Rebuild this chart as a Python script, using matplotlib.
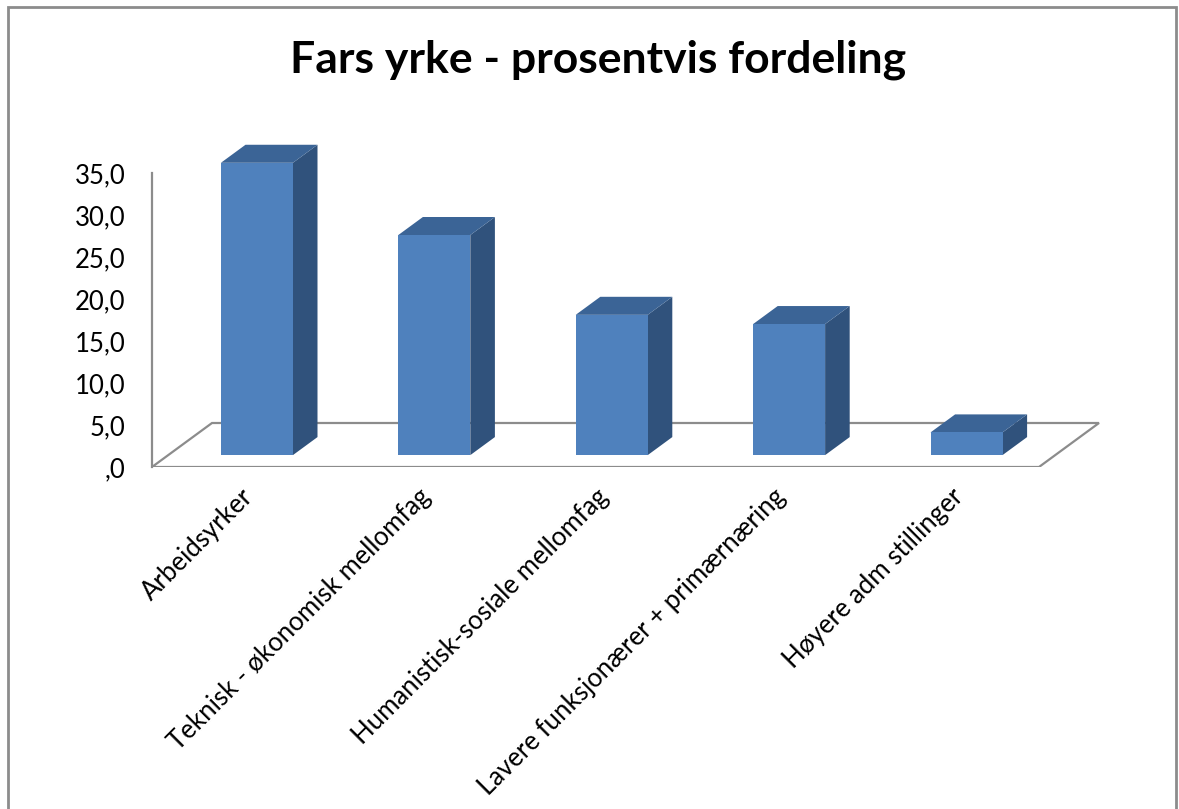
import numpy as np
import matplotlib
matplotlib.use("Agg")
import matplotlib.pyplot as plt
from matplotlib.patches import Polygon, Rectangle

# data
categories = ["Arbeidsyrker",
              "Teknisk - økonomisk mellomfag",
              "Humanistisk-sosiale mellomfag",
              "Lavere funksjonærer + primærnæring",
              "Høyere adm stillinger"]
values = [34.8, 26.2, 16.7, 15.6, 2.7]
yticks = [0, 5, 10, 15, 20, 25, 30, 35]
ytick_labels = [",0", "5,0", "10,0", "15,0", "20,0", "25,0", "30,0", "35,0"]

plt.rcParams['font.family'] = ['Lato', 'DejaVu Sans']

W, H = 1179, 809
fig = plt.figure(figsize=(W / 100, H / 100), dpi=100)

# pixel geometry of the plot area
px_slot = 177.4      # pixels per category
px_val = 8.4         # pixels per value unit
left_px, zero_px = 152, 467
right_px, top_px = 1115, 120

ax = fig.add_axes([left_px / W, (H - zero_px) / H,
                   (right_px - left_px) / W, (zero_px - top_px) / H])
ax.set_xlim(0, (right_px - left_px) / px_slot)
ax.set_ylim(0, (zero_px - top_px) / px_val)

# oblique depth vector for the floor (data units)
dx_full = 60 / px_slot
dy_full = 44 / px_val
f0, f1 = 0.27, 0.68   # bar depth start / end
bar_w = 72 / px_slot

grey = "#8c8c8c"
floor = Polygon([(0, 0), (len(values), 0),
                 (len(values) + dx_full, dy_full), (dx_full, dy_full)],
                closed=True, facecolor="none", edgecolor=grey, lw=1.6, zorder=1)
ax.add_patch(floor)

c_front, c_side, c_top = "#4f81bd", "#30527c", "#3b6496"
ddx = (f1 - f0) * dx_full
ddy = (f1 - f0) * dy_full
for i, v in enumerate(values):
    x0 = i + (1 - bar_w) / 2 + f0 * dx_full
    y0 = f0 * dy_full
    side = [(x0 + bar_w, y0), (x0 + bar_w + ddx, y0 + ddy),
            (x0 + bar_w + ddx, y0 + ddy + v), (x0 + bar_w, y0 + v)]
    top = [(x0, y0 + v), (x0 + bar_w, y0 + v),
           (x0 + bar_w + ddx, y0 + v + ddy), (x0 + ddx, y0 + v + ddy)]
    ax.add_patch(Polygon(side, closed=True, facecolor=c_side, edgecolor="none", zorder=3))
    ax.add_patch(Polygon(top, closed=True, facecolor=c_top, edgecolor="none", zorder=3))
    ax.add_patch(Rectangle((x0, y0), bar_w, v, facecolor=c_front, edgecolor="none", zorder=4))

# axes styling
for s in ["top", "right", "bottom"]:
    ax.spines[s].set_visible(False)
ax.spines["left"].set_bounds(0, 35)
ax.spines["left"].set_color(grey)
ax.spines["left"].set_linewidth(1.6)
ax.set_yticks(yticks)
ax.set_yticklabels(ytick_labels, fontsize=18.5)
ax.tick_params(axis="y", length=0, pad=19)

ax.set_xticks(np.arange(len(categories)) + 0.5)
ax.set_xticklabels(categories, rotation=45, ha="right", rotation_mode="anchor", fontsize=18.5)
ax.tick_params(axis="x", length=0, pad=12)

fig.suptitle("Fars yrke - prosentvis fordeling", x=598 / W, y=1 - 40 / H,
             fontsize=32, fontweight="bold", va="top")

# outer chart border
fig.add_artist(Rectangle((8 / W, -0.01), (1176 - 8) / W, 1.01 - 7 / H,
                         transform=fig.transFigure, facecolor="none",
                         edgecolor=grey, lw=2))

fig.savefig("out.png", dpi=100)
